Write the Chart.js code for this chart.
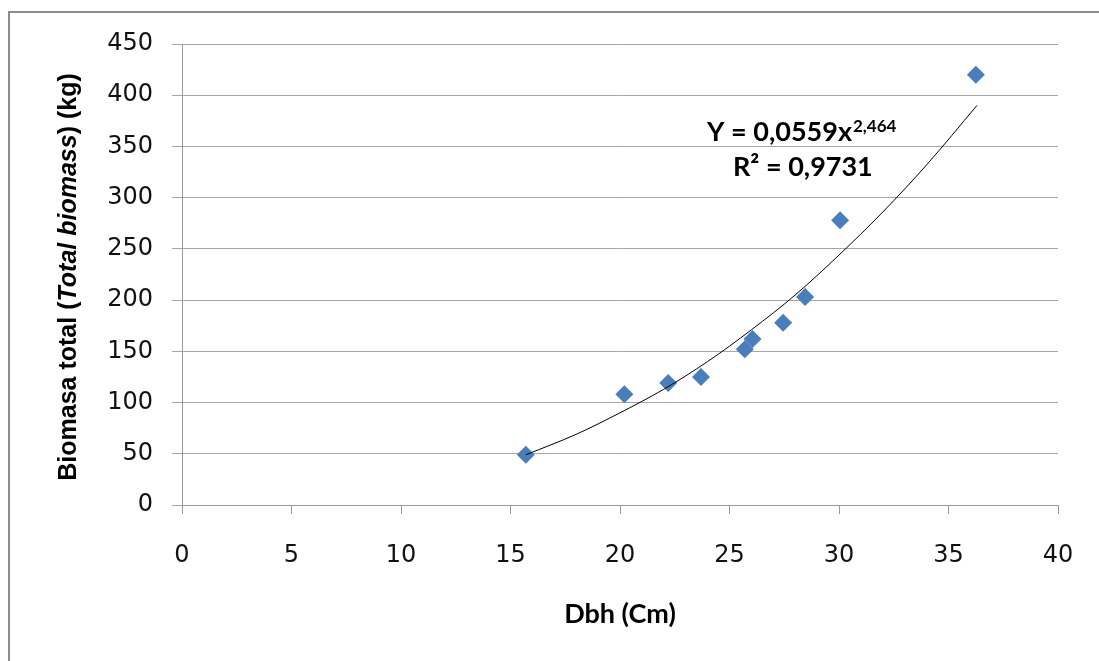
<!DOCTYPE html>
<html>
<head>
<meta charset="utf-8">
<script src="https://cdn.jsdelivr.net/npm/chart.js@4/dist/chart.umd.min.js"></script>
<style>
  html, body { margin: 0; padding: 0; background: #fff; }
  #wrap { width: 1099px; height: 661px; position: relative; }
</style>
</head>
<body>
<div id="wrap"><canvas id="chart"></canvas></div>
<script>
// measured diamonds: Dbh (cm) vs total biomass (kg)
const dbh = [15.7, 20.2, 22.2, 23.7, 25.7, 26.05, 27.45, 28.45, 30.05, 36.25];
const biomass = [49, 108, 119, 125, 152, 162, 178, 203, 278, 420];

// power trendline
const trendX = [15.7, 18, 20, 22, 24, 26, 28, 30, 32, 34, 36.3];
const trendY = [49, 69, 90, 113, 140, 171, 205, 244, 286, 332, 390];

const xTicks = [0, 5, 10, 15, 20, 25, 30, 35, 40];
const yTicks = [0, 50, 100, 150, 200, 250, 300, 350, 400, 450];

const eqText = 'Y = 0,0559x';
const eqPow = '2,464';
const r2Text = 'R\u00b2 = 0,9731';

const tickFont = 'DejaVu Sans';

const points = dbh.map((x, i) => ({ x: x, y: biomass[i] }));
const trend = trendX.map((x, i) => ({ x: x, y: trendY[i] }));

// frame, axis titles and equation label
const extras = {
  id: 'extras',
  beforeDraw(chart) {
    const c = chart.ctx;
    c.save();
    c.fillStyle = '#fff';
    c.fillRect(0, 0, chart.width, chart.height);
    c.restore();
  },
  afterDraw(chart) {
    const c = chart.ctx;
    c.save();
    // outer frame
    c.strokeStyle = '#8c8c8c';
    c.lineWidth = 2;
    c.beginPath();
    c.moveTo(9, chart.height + 5);
    c.lineTo(9, 12);
    c.lineTo(chart.width + 5, 12);
    c.stroke();

    // x title
    c.fillStyle = '#000';
    c.font = 'bold 27px Lato';
    c.textAlign = 'center';
    c.textBaseline = 'alphabetic';
    c.fillText('Dbh (Cm)', 620, 623);

    // y title, mixed bold / bold italic
    const parts = [
      ['bold 25px "Liberation Sans"', 'Biomasa total ('],
      ['italic bold 25px "Liberation Sans"', 'Total biomass'],
      ['bold 25px "Liberation Sans"', ') (kg)']
    ];
    let total = 0;
    parts.forEach(p => { c.font = p[0]; total += c.measureText(p[1]).width; });
    c.translate(76, 277);
    c.rotate(-Math.PI / 2);
    c.textAlign = 'left';
    let pos = -total / 2;
    parts.forEach(p => {
      c.font = p[0];
      c.fillText(p[1], pos, 0);
      pos += c.measureText(p[1]).width;
    });
    c.setTransform(1, 0, 0, 1, 0, 0);

    // equation
    c.textAlign = 'left';
    c.font = 'bold 27px Lato';
    c.fillText(eqText, 707, 141);
    const w = c.measureText(eqText).width;
    c.font = 'bold 17px Lato';
    c.fillText(eqPow, 707 + w + 1, 132);
    c.font = 'bold 27px Lato';
    c.fillText(r2Text, 733, 176);
    c.restore();
  }
};

new Chart(document.getElementById('chart'), {
  type: 'scatter',
  data: {
    datasets: [
      {
        type: 'line',
        label: 'trend',
        data: trend,
        borderColor: '#000',
        borderWidth: 1,
        pointRadius: 0,
        fill: false,
        cubicInterpolationMode: 'monotone',
        order: 0
      },
      {
        label: 'Biomasa',
        data: points,
        pointStyle: 'rectRot',
        pointRadius: 9,
        backgroundColor: '#4a7ebb',
        borderColor: '#4a7ebb',
        borderWidth: 0,
        order: 1
      }
    ]
  },
  options: {
    responsive: true,
    maintainAspectRatio: false,
    animation: false,
    layout: { padding: { left: 0, right: 41, top: 44, bottom: 0 } },
    plugins: {
      legend: { display: false },
      tooltip: { enabled: false }
    },
    scales: {
      x: {
        type: 'linear',
        min: 0,
        max: 40,
        afterBuildTicks: s => { s.ticks = xTicks.map(v => ({ value: v })); },
        afterFit: s => { s.height = 156; s.paddingLeft = 0; s.paddingRight = 0; },
        grid: { drawOnChartArea: false, drawTicks: true, tickLength: 9, color: '#999' },
        border: { color: '#999', width: 1 },
        ticks: { color: '#111', padding: 27, font: { family: tickFont, size: 24 } }
      },
      y: {
        min: 0,
        max: 450,
        afterBuildTicks: s => { s.ticks = yTicks.map(v => ({ value: v })); },
        afterFit: s => { s.width = 182; s.paddingTop = 0; s.paddingBottom = 0; },
        grid: { color: '#a6a6a6', tickLength: 10, drawTicks: true },
        border: { color: '#999', width: 1 },
        ticks: { color: '#111', padding: 19, font: { family: tickFont, size: 24 } }
      }
    }
  },
  plugins: [extras]
});
</script>
</body>
</html>
